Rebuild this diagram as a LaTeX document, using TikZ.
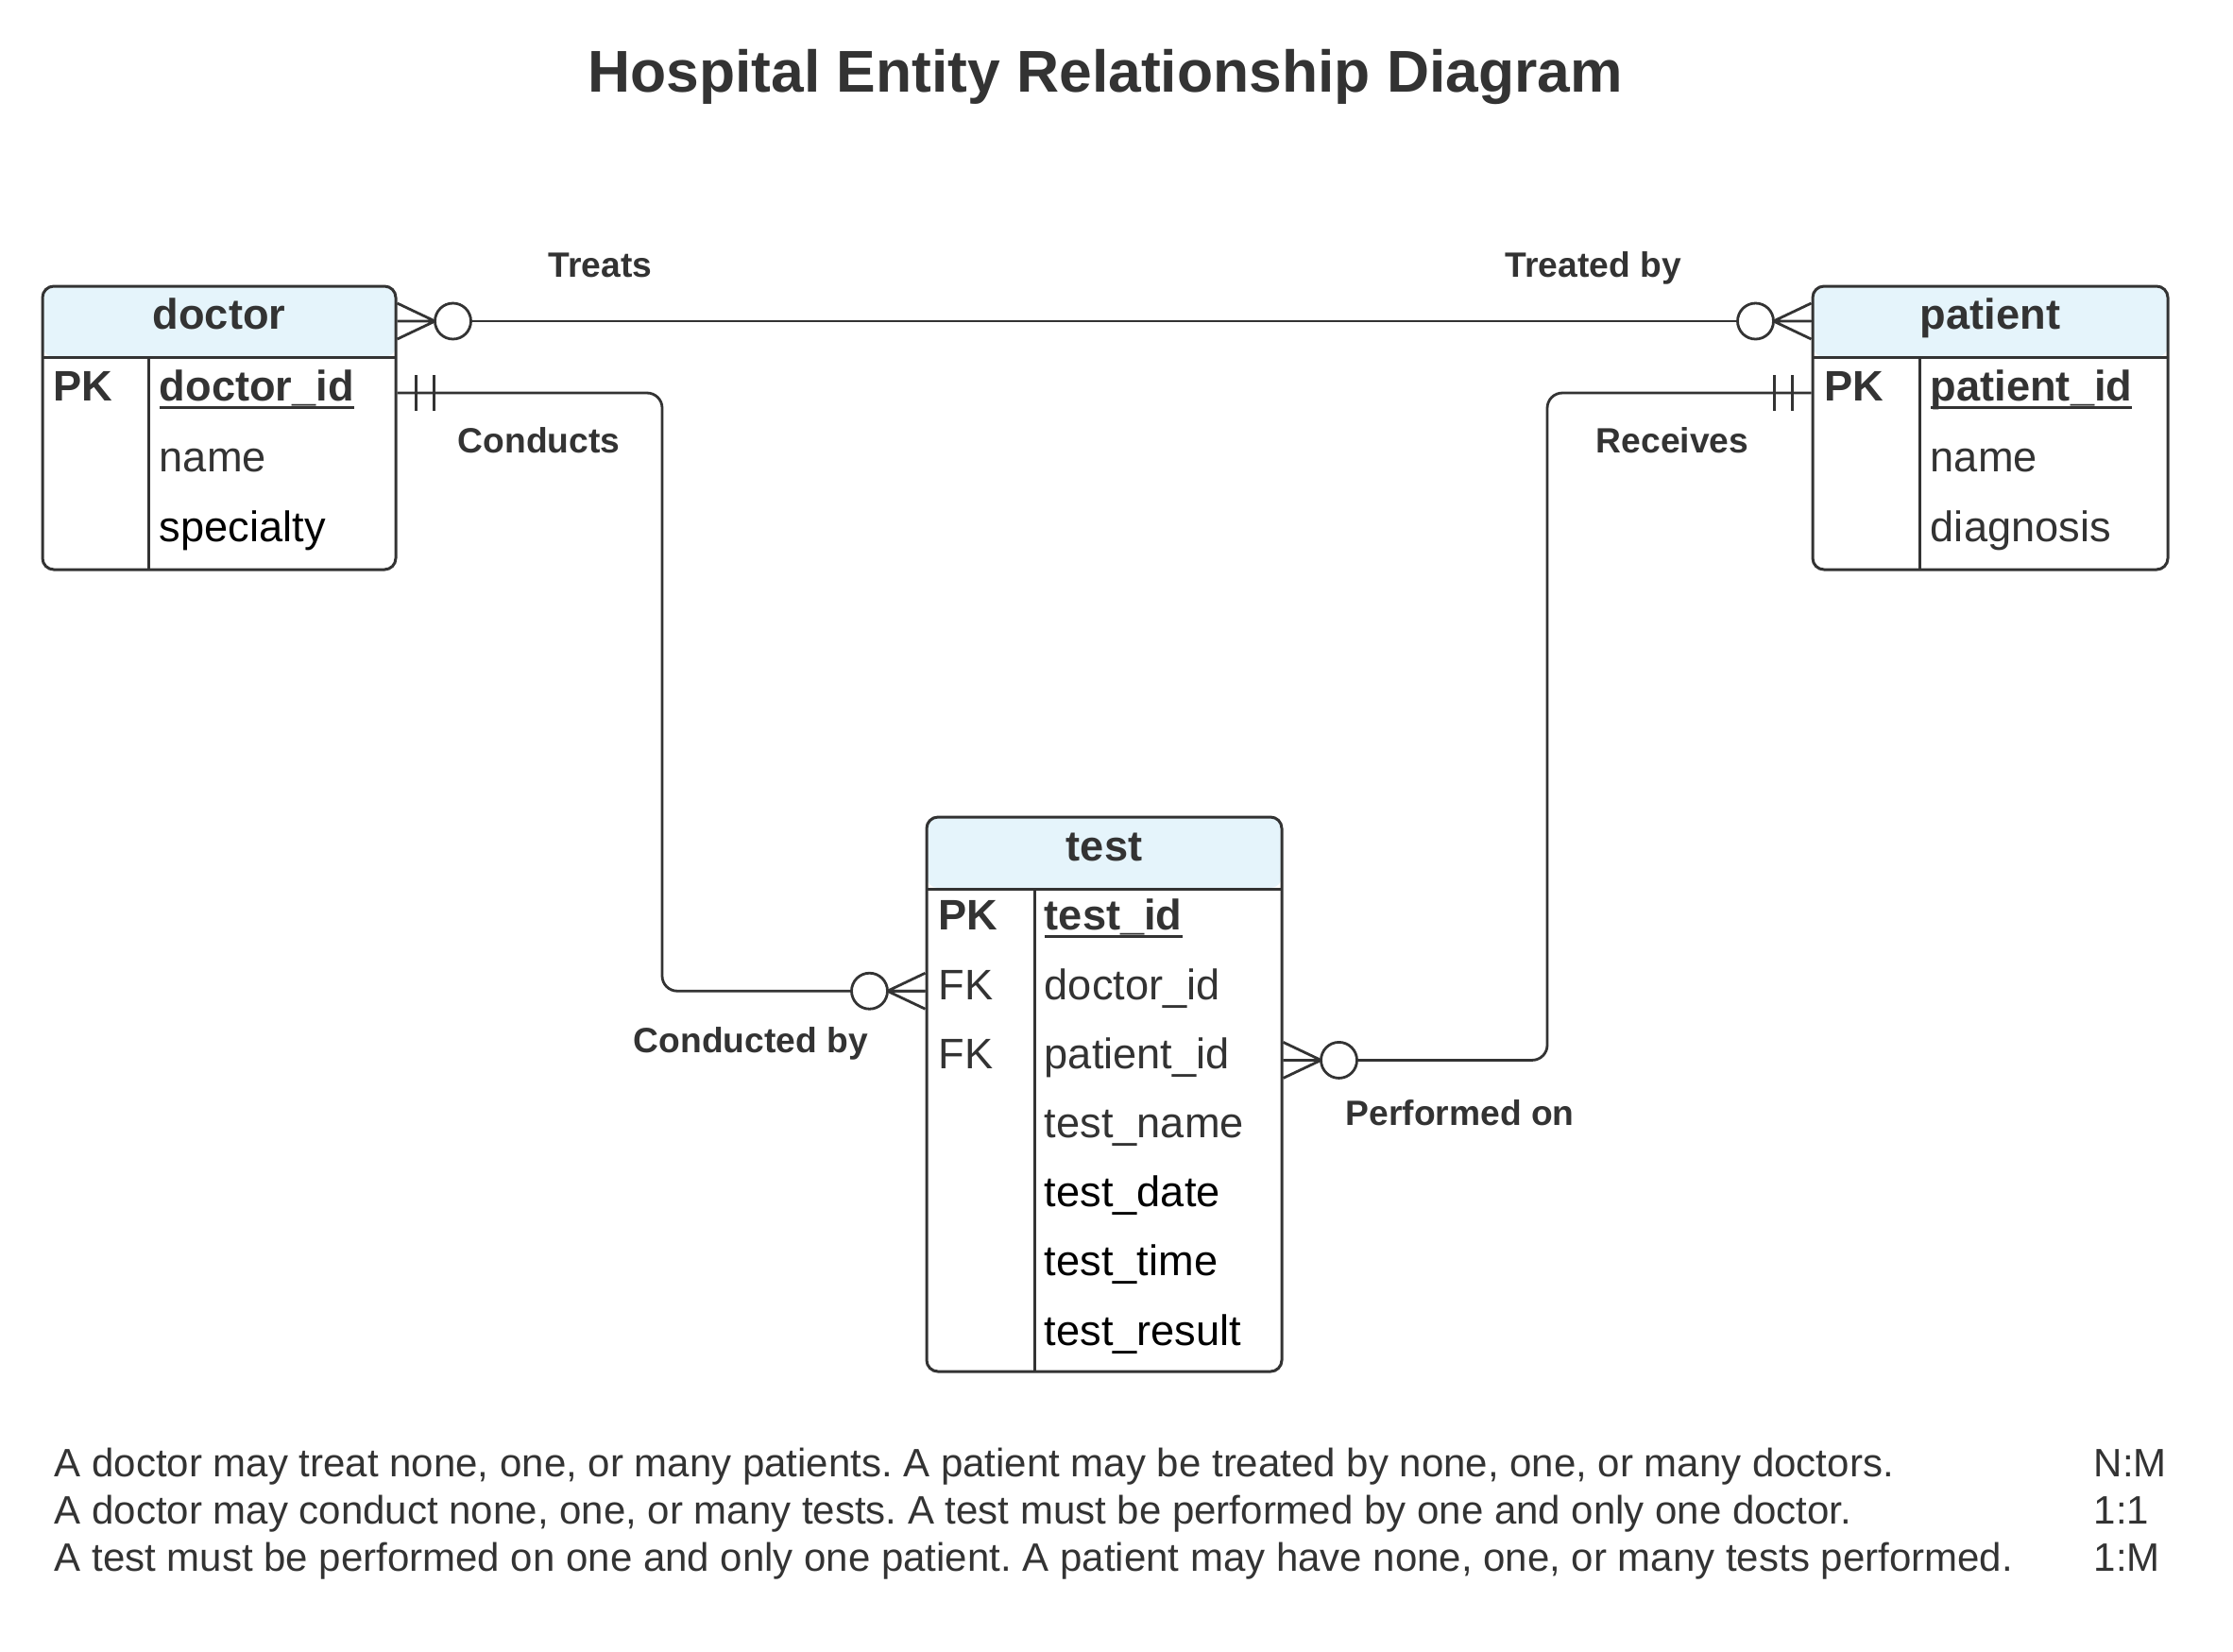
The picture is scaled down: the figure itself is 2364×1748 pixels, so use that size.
\documentclass[tikz,border=0pt]{standalone}
\usepackage{fontspec}
\setmainfont{Liberation Sans}
\usetikzlibrary{fit}
\frenchspacing

\definecolor{ink}{HTML}{333333}
\definecolor{hdrblue}{HTML}{E5F4FB}

\newcommand\keyline[1]{\setbox0\hbox{#1}\rlap{\rule[-2.1pt]{\wd0}{0.75pt}}\box0}

\tikzset{
    entity/.style={draw=ink, line width=0.75pt, rounded corners=3pt, inner sep=0pt,
        path picture={\fill[hdrblue] (path picture bounding box.north west)
            rectangle ([yshift=-18.75pt]path picture bounding box.north east);}},
    rule/.style={draw=ink, line width=0.75pt},
    conn/.style={draw=ink, line width=0.7pt, rounded corners=4pt},
    ttl/.style={font=\bfseries\fontsize{11.3}{13}\selectfont, text=ink, inner sep=0pt,
        text height=0.7em, text depth=0.26em},
    attr/.style={font=\fontsize{11.3}{13}\selectfont, text=ink, anchor=west, inner sep=0pt,
        text height=0.7em, text depth=0.26em},
    keyattr/.style={attr, font=\bfseries\fontsize{11.3}{13}\selectfont},
    rel/.style={font=\bfseries\fontsize{9.3}{11}\selectfont, text=ink, anchor=base west, inner sep=0pt},
    note/.style={font=\fontsize{10.5}{12}\selectfont, text=ink, anchor=base west, inner sep=0pt},
    zeromany/.pic={
        \draw[ink, line width=0.7pt] (0,-19) -- (40,0) -- (0,19) (0,0) -- (40,0);
        \draw[ink, line width=0.7pt, fill=white] (59,0) circle[radius=19];
    },
    oneone/.pic={
        \draw[ink, line width=0.7pt] (20,-19) -- (20,19) (39,-19) -- (39,19);
    },
}

\begin{document}
\begin{tikzpicture}[x=0.25pt, y=-0.25pt]
    \useasboundingbox (0,0) rectangle (2364,1748);

    \node[font=\bfseries\fontsize{15.6}{18}\selectfont, text=ink, anchor=base, inner sep=0pt] (title) at (1170,97) {Hospital Entity Relationship Diagram};

    % doctor
    \node[entity, fit={(45,303) (419,603)}] (doctor) {};
    \draw[rule] (45,378) -- (419,378) (157,378) -- (157,603);
    \node[ttl] (doctor-t) at (232,340) {doctor};
    \node[keyattr] (doctor-pk) at (56,416) {PK};
    \node[keyattr] (doctor-id) at (168,416) {\keyline{doctor\_id}};
    \foreach \a/\c [count=\i] in {name/ink, specialty/black}
        \node[attr, text=\c] (doctor-a\i) at (168,416+74.5*\i) {\a};

    % patient
    \node[entity, fit={(1919,303) (2295,603)}] (patient) {};
    \draw[rule] (1919,378) -- (2295,378) (2032,378) -- (2032,603);
    \node[ttl] (patient-t) at (2107,340) {patient};
    \node[keyattr] (patient-pk) at (1931,416) {PK};
    \node[keyattr] (patient-id) at (2043,416) {\keyline{patient\_id}};
    \foreach \a [count=\i] in {name, diagnosis}
        \node[attr] (patient-a\i) at (2043,416+74.5*\i) {\a};

    % test
    \node[entity, fit={(981,865) (1357,1452)}] (test) {};
    \draw[rule] (981,941) -- (1357,941) (1095,941) -- (1095,1452);
    \node[ttl] (test-t) at (1169,903) {test};
    \node[keyattr] (test-pk) at (993,976) {PK};
    \node[keyattr] (test-id) at (1105,976) {\keyline{test\_id}};
    \foreach \i in {1,2}
        \node[attr] (test-fk\i) at (993,976+73.2*\i) {FK};
    \foreach \a/\c [count=\i] in {doctor\_id/ink, patient\_id/ink, test\_name/ink,
        test\_date/black, test\_time/black, test\_result/black}
        \node[attr, text=\c] (test-a\i) at (1105,976+73.2*\i) {\a};

    % relationships
    \coordinate (c-bend) at (701,0);
    \coordinate (r-bend) at (1638,0);
    \draw[conn] (doctor-t -| doctor.east) -- (patient-t -| patient.west);
    \draw[conn] (doctor-pk -| doctor.east) -| (c-bend |- test-fk1) -- (test-fk1 -| test.west);
    \draw[conn] (patient-pk -| patient.west) -| (r-bend |- test-fk2) -- (test-fk2 -| test.east);

    \pic at (doctor-t -| doctor.east) {zeromany};
    \pic[xscale=-1] at (patient-t -| patient.west) {zeromany};
    \pic at (doctor-pk -| doctor.east) {oneone};
    \pic[xscale=-1] at (patient-pk -| patient.west) {oneone};
    \pic[xscale=-1] at (test-fk1 -| test.west) {zeromany};
    \pic at (test-fk2 -| test.east) {zeromany};

    \node[rel] (l-treats) at (580,293) {Treats};
    \node[rel] (l-treatedby) at (1593,293) {Treated by};
    \node[rel] (l-conducts) at (484,479) {Conducts};
    \node[rel] (l-receives) at (1689,479) {Receives};
    \node[rel] (l-conductedby) at (670,1114) {Conducted by};
    \node[rel] (l-performedon) at (1424,1191) {Performed on};

    % notes
    \foreach \t/\r [count=\i] in {
        {A doctor may treat none, one, or many patients. A patient may be treated by none, one, or many doctors.}/N:M,
        {A doctor may conduct none, one, or many tests. A test must be performed by one and only one doctor.}/1:1,
        {A test must be performed on one and only one patient. A patient may have none, one, or many tests performed.}/1:M} {
        \node[note] (note\i) at (57,1513+50*\i) {\t};
        \node[note] (ratio\i) at (2216,1513+50*\i) {\r};
    }
\end{tikzpicture}
\end{document}
